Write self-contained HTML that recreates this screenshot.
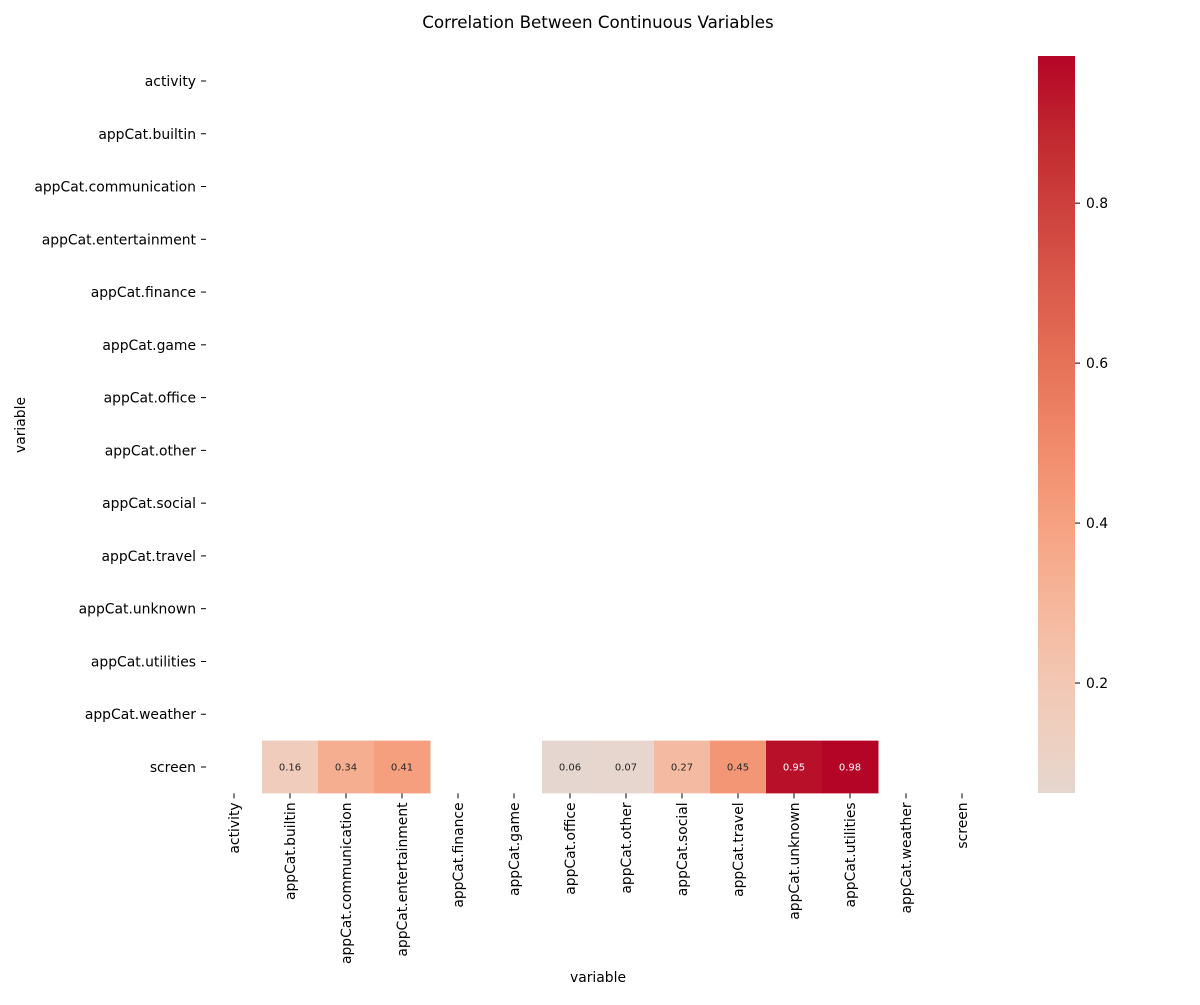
<!DOCTYPE html>
<html><head><meta charset="utf-8"><style>
body{margin:0;background:#fff;font-family:"Liberation Sans","DejaVu Sans",sans-serif;}
svg text{font-family:"DejaVu Sans","Liberation Sans",sans-serif;}
</style></head><body>
<svg id="chart" width="1200" height="1000" xmlns="http://www.w3.org/2000/svg">
<rect width="1200" height="1000" fill="#fff"/>
<text x="598" y="28" font-size="16.7" text-anchor="middle">Correlation Between Continuous Variables</text>
<g id="cells"></g><g id="yticks"></g><g id="xticks"></g>
<defs><linearGradient id="cbgrad" x1="0" y1="1" x2="0" y2="0"></linearGradient></defs>
<rect x="1038" y="56" width="37" height="737" fill="url(#cbgrad)"/>
<g id="cbticks"></g>
<text x="598" y="982" font-size="13.9" text-anchor="middle">variable</text>
<text x="25" y="425" font-size="13.9" text-anchor="middle" transform="rotate(-90 25 425)">variable</text>
</svg>
<script>
const categories=["activity","appCat.builtin","appCat.communication","appCat.entertainment","appCat.finance","appCat.game","appCat.office","appCat.other","appCat.social","appCat.travel","appCat.unknown","appCat.utilities","appCat.weather","screen"];
const screenRow=[null,0.16,0.34,0.41,null,null,0.06,0.07,0.27,0.45,0.95,0.98,null,null];
const cbTicks=[0.2,0.4,0.6,0.8];
const vmin=0.0625,vmax=0.984;
const NS="http://www.w3.org/2000/svg";
const X0=206,CW=56,Y0=54.6,RH=52.77;
const CB_TOP=56,CB_BOT=793;
const stops=[[0.5,[221,220,220]],[0.55,[234,211,199]],[0.6,[242,200,180]],[0.65,[246,183,156]],[0.7,[246,163,131]],[0.75,[241,140,108]],[0.8,[231,116,88]],[0.875,[212,79,69]],[0.95,[192,40,47]],[1.0,[180,4,38]]];
function cmap(p){for(let i=1;i<stops.length;i++){if(p<=stops[i][0]){const a=stops[i-1],b=stops[i];const t=(p-a[0])/(b[0]-a[0]);const c=a[1].map((v,k)=>Math.round(v+(b[1][k]-v)*t));return `rgb(${c})`;}}return "rgb(180,4,38)";}
const rng=Math.max(vmax,-vmin);
function color(v){return cmap(0.5+0.5*v/rng);}
function xc(i){return X0+CW*(i+0.5);}
function yc(i){return Y0+RH*(i+0.5);}
function cbY(v){return CB_BOT-(v-vmin)/(vmax-vmin)*(CB_BOT-CB_TOP);}
function mk(tag,attrs,parent,txt){const e=document.createElementNS(NS,tag);for(const k in attrs)e.setAttribute(k,attrs[k]);if(txt!==undefined)e.textContent=txt;parent.appendChild(e);return e;}
const cells=document.getElementById('cells');
const ri=categories.length-1;
screenRow.forEach((v,i)=>{if(v===null)return;
 const r=mk('rect',{x:X0+CW*i,y:Y0+RH*ri,width:CW+0.5,height:RH,fill:color(v)},cells);
 
 
 const t=mk('text',{x:xc(i),y:yc(ri)+3.5,'font-size':'10','text-anchor':'middle',fill:v>0.7?'#fff':'#262626'},cells,v.toFixed(2));
 
 
});
const yt=document.getElementById('yticks'),xt=document.getElementById('xticks');
categories.forEach((c,i)=>{
 mk('line',{x1:X0-5,x2:X0,y1:yc(i),y2:yc(i),stroke:'#000'},yt);
 const t=mk('text',{x:X0-10,y:yc(i)+5,'font-size':'13.9','text-anchor':'end'},yt,c);
 
 
 const Y=Y0+RH*categories.length;
 mk('line',{x1:xc(i),x2:xc(i),y1:Y,y2:Y+5,stroke:'#000'},xt);
 const u=mk('text',{x:0,y:0,'font-size':'13.9','text-anchor':'end',transform:`translate(${xc(i)+5},${Y+9}) rotate(-90)`},xt,c);
 
 
});
const g=document.getElementById('cbgrad');
for(let k=0;k<=20;k++){const v=vmin+(vmax-vmin)*k/20;mk('stop',{offset:(k/20),'stop-color':color(v)},g);}
const cbt=document.getElementById('cbticks');
cbTicks.forEach(v=>{const y=cbY(v);mk('line',{x1:1075,x2:1080,y1:y,y2:y,stroke:'#000'},cbt);
 const t=mk('text',{x:1086,y:y+5,'font-size':'13.9'},cbt,v.toFixed(1));
 
 });
</script>
</body></html>
